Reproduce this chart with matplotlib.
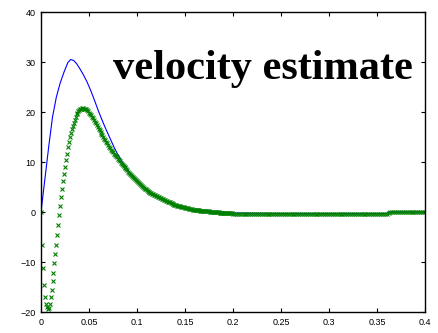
import numpy as np
import matplotlib.pyplot as plt

# Blue curve (line)
t_blue = [0.0, 0.004, 0.008, 0.012, 0.016, 0.020, 0.024, 0.028, 0.031, 0.034,
          0.037, 0.040, 0.044, 0.048, 0.052, 0.056, 0.060, 0.064, 0.068, 0.072,
          0.076, 0.080, 0.085, 0.090, 0.100, 0.110, 0.120, 0.130, 0.140, 0.150,
          0.160, 0.180, 0.200, 0.250, 0.300, 0.360, 0.362, 0.400]
v_blue = [0.0, 6.5, 13.0, 19.0, 23.0, 25.8, 28.0, 29.9, 30.5, 30.3,
          29.7, 28.8, 27.5, 26.0, 24.2, 22.2, 20.1, 18.2, 16.4, 14.7,
          13.0, 11.5, 9.9, 8.5, 6.2, 4.4, 3.2, 2.2, 1.5, 0.9,
          0.5, 0.1, -0.2, -0.3, -0.3, -0.3, 0.0, 0.0]

# Green estimate (x markers): 1 ms samples up to 0.2 s, then 2 ms samples
v_green_fast = [
    0.0, -6.5, -11.1, -14.6, -17.0, -18.4, -19.0, -19.3, -19.1, -18.4,
    -16.9, -15.5, -13.8, -12.1, -10.1, -8.3, -6.5, -4.5, -2.6, -0.6,
    1.2, 3.0, 4.7, 6.2, 7.6, 9.1, 10.4, 11.7, 13.1, 14.1,
    15.1, 15.9, 16.7, 17.3, 17.9, 18.5, 19.1, 19.6, 19.9, 20.2,
    20.4, 20.6, 20.7, 20.8, 20.8, 20.7, 20.7, 20.6, 20.4, 20.2,
    19.9, 19.7, 19.4, 19.1, 18.8, 18.5, 18.1, 17.8, 17.4, 17.1,
    16.7, 16.4, 16.0, 15.7, 15.4, 15.1, 14.7, 14.4, 14.1, 13.8,
    13.5, 13.1, 12.8, 12.5, 12.2, 12.0, 11.7, 11.5, 11.2, 11.0,
    10.7, 10.4, 10.2, 9.9, 9.7, 9.4, 9.2, 9.0, 8.9, 8.6,
    8.4, 8.1, 7.9, 7.6, 7.4, 7.2, 7.0, 6.8, 6.6, 6.4,
    6.2, 6.0, 5.8, 5.6, 5.4, 5.2, 5.0, 4.85, 4.7, 4.55,
    4.4, 4.25, 4.1, 4.0, 3.9, 3.8, 3.7, 3.6, 3.5, 3.4,
    3.3, 3.2, 3.1, 3.0, 2.9, 2.8, 2.7, 2.6, 2.5, 2.4,
    2.3, 2.2, 2.1, 2.05, 2.0, 1.9, 1.8, 1.7, 1.6, 1.5,
    1.4, 1.35, 1.3, 1.25, 1.2, 1.15, 1.1, 1.05, 1.0, 0.95,
    0.9, 0.85, 0.8, 0.75, 0.7, 0.65, 0.6, 0.55, 0.5, 0.5,
    0.5, 0.45, 0.4, 0.4, 0.4, 0.35, 0.3, 0.3, 0.3, 0.3,
    0.3, 0.25, 0.2, 0.2, 0.2, 0.15, 0.1, 0.1, 0.1, 0.1,
    0.1, 0.05, 0.0, 0.0, 0.0, 0.0, -0.1, -0.1, -0.1, -0.1,
    -0.1, -0.1, -0.2, -0.2, -0.2, -0.2, -0.2, -0.2, -0.2, -0.2,
    -0.3]
v_green_slow = [
    -0.3, -0.3, -0.3, -0.3, -0.3, -0.3, -0.3, -0.3, -0.3, -0.3,
    -0.3, -0.3, -0.3, -0.3, -0.3, -0.3, -0.3, -0.3, -0.3, -0.3,
    -0.3, -0.3, -0.3, -0.3, -0.3, -0.3, -0.3, -0.3, -0.3, -0.3,
    -0.3, -0.3, -0.3, -0.3, -0.3, -0.3, -0.3, -0.3, -0.3, -0.3,
    -0.3, -0.3, -0.3, -0.3, -0.3, -0.3, -0.3, -0.3, -0.3, -0.3,
    -0.3, -0.3, -0.3, -0.3, -0.3, -0.3, -0.3, -0.3, -0.3, -0.3,
    -0.3, -0.3, -0.3, -0.3, -0.3, -0.3, -0.3, -0.3, -0.3, -0.3,
    -0.3, -0.3, -0.3, -0.3, -0.3, -0.3, -0.3, -0.3, -0.3, -0.3,
    -0.1, 0.0, 0.0, 0.0, 0.0, 0.0, 0.0, 0.0, 0.0, 0.0,
    0.0, 0.0, 0.0, 0.0, 0.0, 0.0, 0.0, 0.0, 0.0, 0.0]

t_green = np.concatenate([np.arange(len(v_green_fast)) * 0.001,
                          0.2 + (np.arange(len(v_green_slow)) + 1) * 0.002])
v_green = v_green_fast + v_green_slow

x_ticks = [0, 0.05, 0.1, 0.15, 0.2, 0.25, 0.3, 0.35, 0.4]
x_labels = ['0', '0.05', '0.1', '0.15', '0.2', '0.25', '0.3', '0.35', '0.4']
y_ticks = [-20, -10, 0, 10, 20, 30, 40]

fig = plt.figure(figsize=(4.38, 3.33), dpi=100)
ax = fig.add_axes([41 / 438, 1 - 312 / 333, 384 / 438, 300 / 333])

ax.plot(t_blue, v_blue, color='#0000ff', linewidth=0.8)
ax.plot(t_green, v_green, linestyle='none', marker='x', color='#008000',
        markersize=3, markeredgewidth=0.8)

ax.text(0.075, 26.5, 'velocity estimate', family='Liberation Serif',
        fontweight='bold', fontsize=30.5, ha='left', va='baseline')

ax.set_xlim(0, 0.4)
ax.set_ylim(-20, 40)
ax.set_xticks(x_ticks)
ax.set_xticklabels(x_labels)
ax.set_yticks(y_ticks)
ax.tick_params(direction='in', top=True, right=True, length=3, width=0.8,
               labelsize=6.5, pad=4)
for lab in ax.get_xticklabels() + ax.get_yticklabels():
    lab.set_family('Liberation Sans')
for s in ax.spines.values():
    s.set_linewidth(1.0)

fig.savefig('out.png', dpi=100)
